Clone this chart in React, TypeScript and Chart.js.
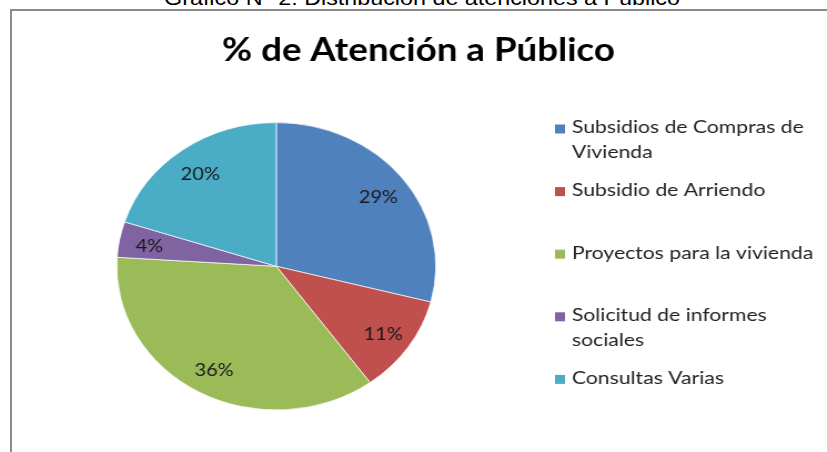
import React, { useEffect, useRef } from "react";
import { Chart, registerables } from "chart.js";

Chart.register(...registerables);

const caption = "Gráfico N° 2: Distribución de atenciones a Público";
const title = "% de Atención a Público";
const categories: string[][] = [
  ["Subsidios de Compras de", "Vivienda"],
  ["Subsidio de Arriendo"],
  ["Proyectos para la vivienda"],
  ["Solicitud de informes", "sociales"],
  ["Consultas Varias"],
];
const values = [29, 11, 36, 4, 20];
const colors = ["#4F81BD", "#C0504D", "#9BBB59", "#8064A2", "#4BACC6"];

const SX = 1.11;
const W = Math.round(827 / SX);
const H = 452;

function wideText(ctx: any, text: string, x: number, y: number, k: number) {
  ctx.save();
  ctx.translate(x, y);
  ctx.scale(k, 1);
  ctx.fillText(text, 0, 0);
  ctx.restore();
}

const overlayPlugin = {
  id: "overlay",
  afterDraw(chart: any) {
    const ctx = chart.ctx;
    ctx.save();
    // title
    ctx.fillStyle = "#000";
    ctx.font = "bold 31.5px Lato";
    ctx.textAlign = "center";
    ctx.textBaseline = "alphabetic";
    wideText(ctx, title, 377, 61, 1.05);

    // percentage labels
    const meta = chart.getDatasetMeta(0);
    const data = chart.data.datasets[0].data as number[];
    const total = data.reduce((a, b) => a + b, 0);
    ctx.font = "18px Lato";
    ctx.fillStyle = "#1a1a1a";
    ctx.textBaseline = "middle";
    meta.data.forEach((arc: any, i: number) => {
      const mid = (arc.startAngle + arc.endAngle) / 2;
      const r = arc.outerRadius * 0.81;
      const x = arc.x + Math.cos(mid) * r;
      const y = arc.y + Math.sin(mid) * r + 2;
      ctx.fillText(Math.round((data[i] / total) * 100) + "%", x, y);
    });

    // legend
    const labels = chart.data.labels as string[][];
    const bg = chart.data.datasets[0].backgroundColor as string[];
    ctx.font = "17px Lato";
    ctx.textAlign = "left";
    labels.forEach((lines, i) => {
      const y0 = 128 + i * 62.6;
      ctx.fillStyle = bg[i];
      ctx.fillRect(500, y0 - 3.5, 9, 9);
      ctx.fillStyle = "#222";
      lines.forEach((ln, j) => {
        wideText(ctx, ln, 515.3, y0 + j * 24.7, 1.12);
      });
    });
    ctx.restore();
  },
};

export default function App() {
  const ref = useRef<HTMLCanvasElement>(null);
  useEffect(() => {
    if (!ref.current) return;
    const cx = 276.3 / SX;
    const cy = 266.3;
    const R = 144;
    const chart = new Chart(ref.current, {
      type: "pie",
      data: {
        labels: categories,
        datasets: [
          {
            data: values,
            backgroundColor: colors,
            borderColor: "rgba(255,255,255,0.7)",
            borderWidth: 1,
          },
        ],
      },
      options: {
        responsive: false,
        animation: false,
        radius: 143.7,
        layout: {
          padding: {
            left: cx - R,
            right: W - (cx + R),
            top: cy - R,
            bottom: H - (cy + R),
          },
        },
        plugins: {
          legend: { display: false },
          title: { display: false },
          tooltip: { enabled: false },
        },
      } as any,
      plugins: [overlayPlugin],
    });
    return () => chart.destroy();
  }, []);

  return (
    <div
      style={{
        position: "absolute",
        left: 0,
        top: 0,
        width: 827,
        height: 452,
        overflow: "hidden",
        background: "#fff",
      }}
    >
      <div
        style={{
          position: "absolute",
          left: 0,
          top: -13.3,
          width: 844,
          textAlign: "center",
          whiteSpace: "nowrap",
          fontFamily: "'Liberation Sans', Arial, sans-serif",
          fontSize: 21,
          lineHeight: "21px",
          color: "#000",
          transform: `scaleX(${SX})`,
          transformOrigin: "422px 0",
        }}
      >
        {caption}
      </div>
      <div
        style={{
          position: "absolute",
          left: 10,
          top: 9,
          width: 2000,
          height: 2000,
          borderLeft: "2px solid #8a8a8a",
          borderTop: "2px solid #8a8a8a",
        }}
      />
      <div
        style={{
          position: "absolute",
          left: 0,
          top: 0,
          width: W,
          height: H,
          transform: `scaleX(${SX})`,
          transformOrigin: "0 0",
        }}
      >
        <canvas ref={ref} width={W} height={H} style={{ width: W, height: H, display: "block" }} />
      </div>
    </div>
  );
}
